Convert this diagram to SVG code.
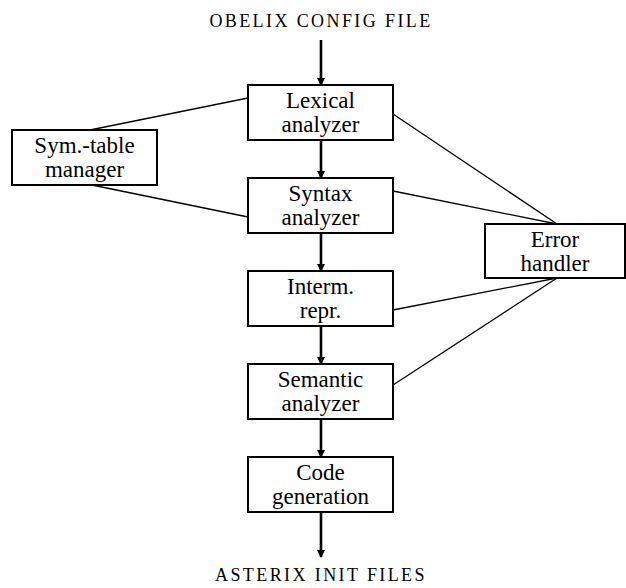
<svg xmlns="http://www.w3.org/2000/svg" width="626" height="588" viewBox="0 0 626 588">
<style>
.box{fill:#fff;stroke:#000;stroke-width:2}
.t{font-family:'Liberation Serif','DejaVu Serif','Times New Roman',serif;font-size:23px;text-anchor:middle;fill:#000}
.cap{font-family:'Liberation Serif','DejaVu Serif','Times New Roman',serif;font-size:18px;text-anchor:middle;letter-spacing:2.4px;fill:#000}
.flow{stroke:#000;stroke-width:2.6;fill:none;marker-end:url(#ah)}
.ln{stroke:#000;stroke-width:1.3;fill:none}
</style>
<defs>
<marker id="ah" markerWidth="8" markerHeight="10" refX="7" refY="5" orient="auto" markerUnits="userSpaceOnUse">
<path d="M0,1 L8,5 L0,9 Z" fill="#000"/>
</marker>
</defs>
<rect width="626" height="588" fill="#fff"/>
<text class="cap" x="321" y="27">OBELIX CONFIG FILE</text>
<text class="cap" x="321" y="581">ASTERIX INIT FILES</text>
<g id="connectors">
<line class="flow" x1="321" y1="40" x2="321" y2="85"/>
<line class="flow" x1="321" y1="140" x2="321" y2="178"/>
<line class="flow" x1="321" y1="233" x2="321" y2="271"/>
<line class="flow" x1="321" y1="326" x2="321" y2="364"/>
<line class="flow" x1="321" y1="419" x2="321" y2="457"/>
<line class="flow" x1="321" y1="512" x2="321" y2="557"/>
<line class="ln" x1="90" y1="130" x2="248" y2="98"/>
<line class="ln" x1="92" y1="185" x2="248" y2="217"/>
<line class="ln" x1="393" y1="114" x2="557" y2="224"/>
<line class="ln" x1="393" y1="191" x2="557" y2="224"/>
<line class="ln" x1="393" y1="310" x2="557" y2="278"/>
<line class="ln" x1="393" y1="385" x2="557" y2="278"/>
</g>
<g id="lexical"><rect class="box" x="248" y="85" width="145" height="55"/><text class="t" x="320.5" y="108">Lexical</text><text class="t" x="320.5" y="132">analyzer</text></g>
<g id="symtable"><rect class="box" x="12" y="130" width="145" height="55"/><text class="t" x="84.5" y="153">Sym.-table</text><text class="t" x="84.5" y="177">manager</text></g>
<g id="syntax"><rect class="box" x="248" y="178" width="145" height="55"/><text class="t" x="320.5" y="201">Syntax</text><text class="t" x="320.5" y="225">analyzer</text></g>
<g id="error"><rect class="box" x="485" y="224" width="140" height="54"/><text class="t" x="555" y="247">Error</text><text class="t" x="555" y="271">handler</text></g>
<g id="interm"><rect class="box" x="248" y="271" width="145" height="55"/><text class="t" x="320.5" y="294">Interm.</text><text class="t" x="320.5" y="318">repr.</text></g>
<g id="semantic"><rect class="box" x="248" y="364" width="145" height="55"/><text class="t" x="320.5" y="387">Semantic</text><text class="t" x="320.5" y="411">analyzer</text></g>
<g id="codegen"><rect class="box" x="248" y="457" width="145" height="55"/><text class="t" x="320.5" y="480">Code</text><text class="t" x="320.5" y="504">generation</text></g>
</svg>
